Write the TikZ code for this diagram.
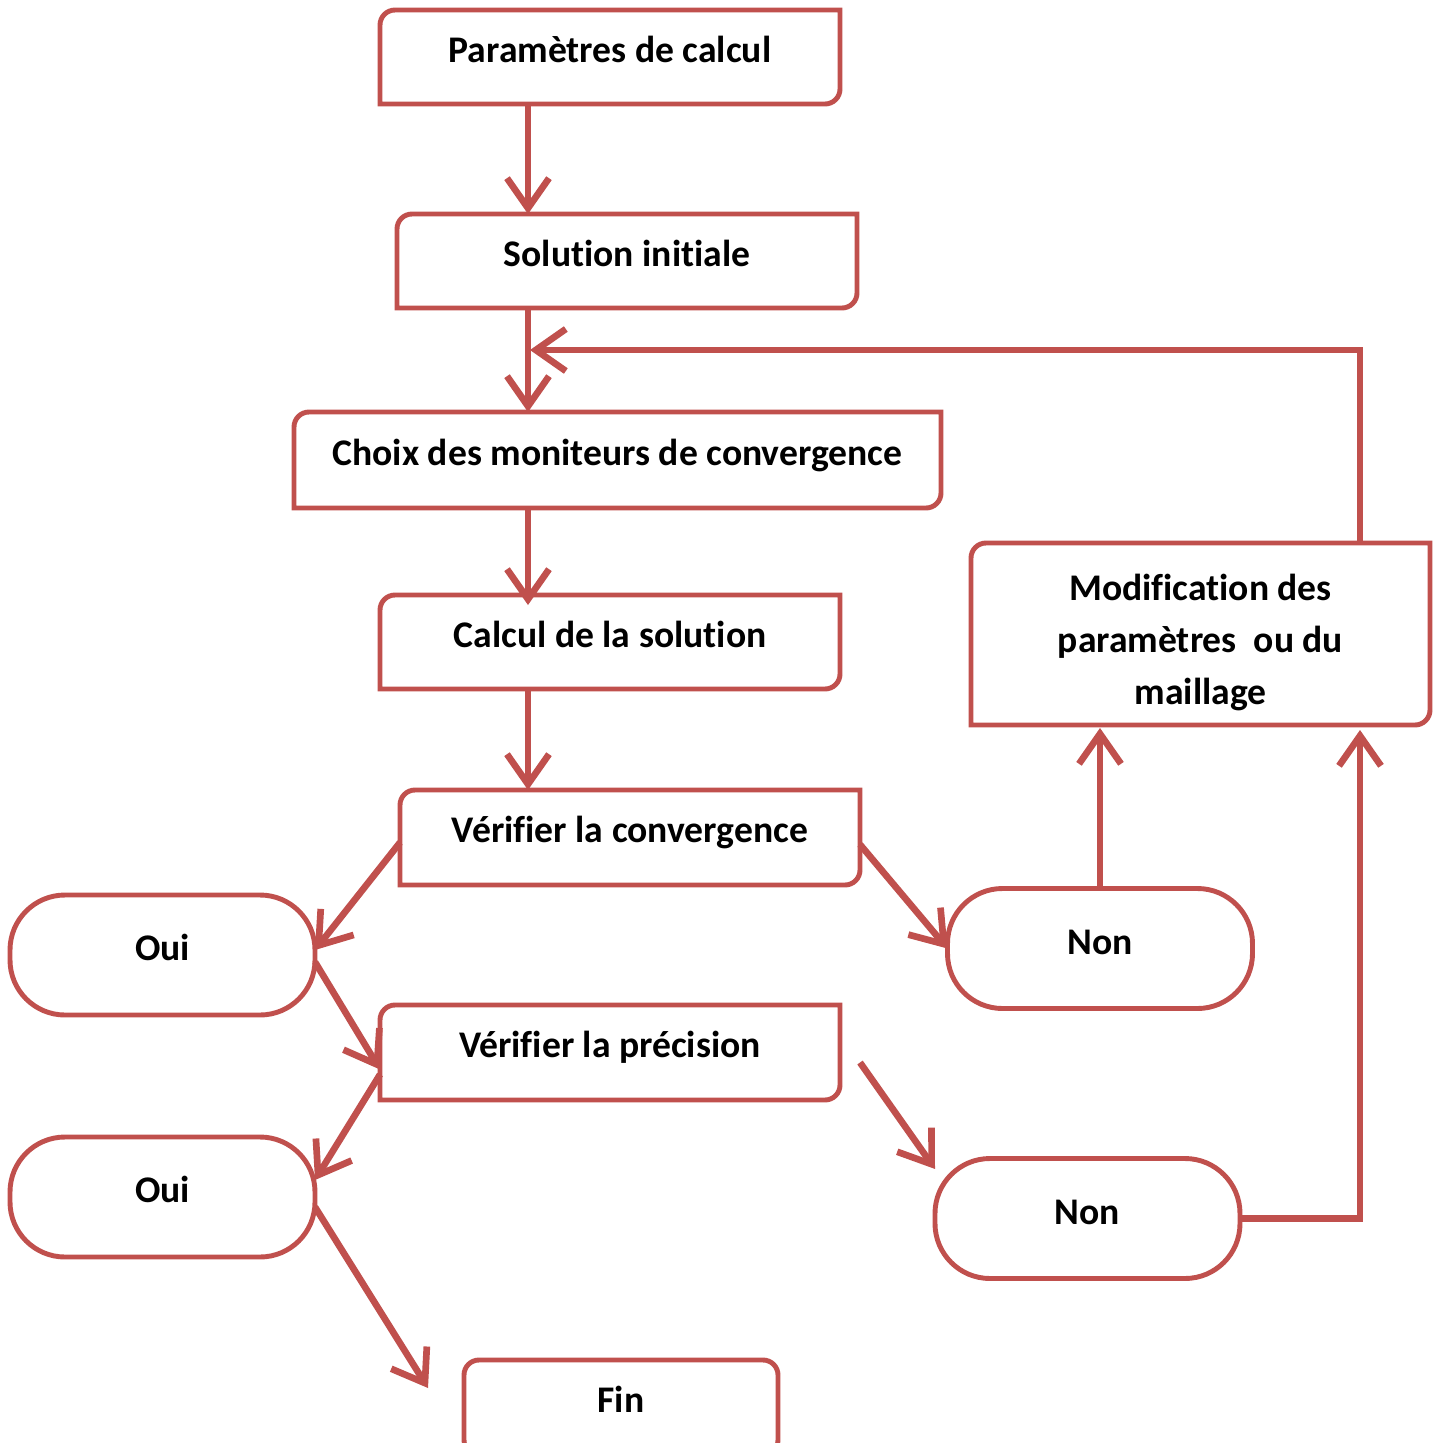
\documentclass[tikz,border=0pt]{standalone}
\usepackage{fontspec}
\setmainfont{Carlito}[Ligatures=NoCommon]
\usetikzlibrary{arrows.meta}
\definecolor{accred}{RGB}{192,80,77}

\begin{document}
\begin{tikzpicture}[
  lbl/.style={inner sep=0pt, outer sep=0pt, font=\fontsize{10.7}{14.8}\selectfont\bfseries},
  box/.style={lbl, minimum width=4.6cm, minimum height=0.94cm, text height=0.52cm, text depth=0.42cm},
  pill/.style={lbl, draw=accred, line width=1.4pt, rounded corners=0.55cm, minimum width=3.05cm, minimum height=1.2cm,
    text height=7pt, text depth=3.6pt},
  outline/.style={draw=accred, line width=1.4pt},
  arr/.style={draw=accred, line width=1.9pt, -{Straight Barb[length=0.3cm,width=0.42cm]}}]
\useasboundingbox (0,0) rectangle (14.38,-14.43);

\node[box] (param) at (6.10,-0.57) {Paramètres de calcul};
\node[box] (init) at (6.27,-2.61) {Solution initiale};
\node[box, minimum width=6.47cm, minimum height=0.96cm] (choix) at (6.175,-4.60) {Choix des moniteurs de convergence};
\node[box] (calc) at (6.10,-6.42) {Calcul de la solution};
\node[box, minimum height=0.95cm] (conv) at (6.30,-8.375) {Vérifier la convergence};
\node[box, minimum height=0.95cm] (prec) at (6.10,-10.525) {Vérifier la précision};
\node[box, minimum width=3.14cm, minimum height=0.95cm, draw=accred, line width=1.4pt, rounded corners=1.5mm] (fin) at (6.21,-14.075) {Fin};
\node[lbl, minimum width=4.59cm, minimum height=1.82cm, align=center] (modif) at (12.005,-6.34)
  {\rule{0pt}{12.5pt}Modification des\\paramètres~ ou du\\maillage};

\node[pill] (oui1) at (1.625,-9.55) {Oui};
\node[pill] (non1) at (11.00,-9.485) {Non};
\node[pill] (oui2) at (1.625,-11.97) {Oui};
\node[pill] (non2) at (10.875,-12.185) {Non};

\foreach \n in {param,init,choix,calc,conv,prec,modif}
  \draw[outline] (\n.south west) -- ([yshift=-1.5mm]\n.north west)
    arc[start angle=180, end angle=90, radius=1.5mm] -- (\n.north east)
    -- ([yshift=1.5mm]\n.south east) arc[start angle=0, end angle=-90, radius=1.5mm] -- cycle;

\coordinate (spine) at (5.28,0);
\coordinate (rise) at (13.60,0);
\coordinate (merge) at (5.30,-3.50);
\coordinate (finend) at (4.28,-13.88);

\draw[arr] (param.south -| spine) -- (init.north -| spine);
\draw[arr] (init.south -| spine) -- (choix.north -| spine);
\draw[arr] (choix.south -| spine) -- ([yshift=-1mm]calc.north -| spine);
\draw[arr] (calc.south -| spine) -- (conv.north -| spine);
\draw[arr] ([yshift=-0.05cm]conv.west) -- ([yshift=0.05cm]oui1.east);
\draw[arr] ([yshift=-0.07cm]conv.east) -- (non1.west);
\draw[arr] ([yshift=-0.07cm]oui1.east) -- ([yshift=-0.17cm]prec.west);
\draw[arr] ([yshift=-0.22cm]prec.west) -- ([yshift=0.17cm]oui2.east);
\draw[arr] ([shift={(0.2,-0.1)}]prec.east) -- (non2.162);
\draw[arr] ([yshift=-0.1cm]oui2.east) -- (finend);
\draw[arr] (non1.north) -- ([yshift=-0.03cm]modif.south -| non1.north);
\draw[arr] (non2.east) -| ([yshift=-0.05cm]modif.south -| rise);
\draw[arr] (modif.north -| rise) |- (merge);
\end{tikzpicture}
\end{document}
